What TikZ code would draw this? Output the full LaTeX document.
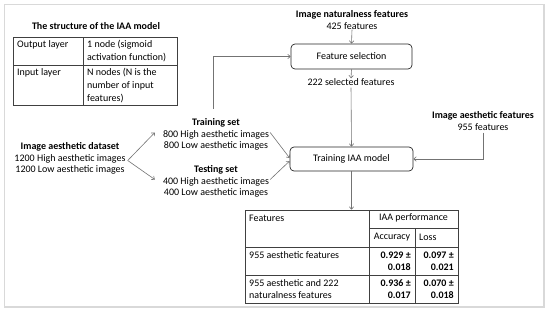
\documentclass[tikz,border=0pt]{standalone}
\usepackage{fontspec}
\setmainfont{Carlito}
\usetikzlibrary{arrows.meta,calc}
\begin{document}
\begin{tikzpicture}[x=1pt,y=-1pt,
  every node/.style={font=\fontsize{10}{11.8}\selectfont, inner sep=0pt, align=center},
  btxt/.style={font=\fontsize{10}{11.8}\selectfont\bfseries},
  ttxt/.style={font=\fontsize{10}{13}\selectfont},
  bnum/.style={font=\fontsize{10}{12}\selectfont\bfseries, anchor=east, align=right},
  conn/.style={draw=black!55, line width=0.6pt, -{Straight Barb[length=2.5pt,width=4.5pt]}},
  proc/.style={draw=black!85, rounded corners=4pt, line width=0.7pt, minimum width=121pt, minimum height=25pt},
  tline/.style={draw=black!75, line width=0.7pt},
  frame/.style={draw=black!15, line width=1.2pt}]
\useasboundingbox (0,0) rectangle (550,314);
\draw[frame] (4.5,4.5) rectangle (544,307);

% structure table
\node[btxt] (title) at (96,26) {The structure of the IAA model};
\node[tline, minimum width=164pt, minimum height=68pt] (st) at (95,71) {};
\draw[tline] (83,37) -- (83,105);
\draw[tline] (13,65) -- (177,65);
\node[ttxt, anchor=west] (ol) at (17,45) {Output layer};
\node[ttxt, anchor=west, align=left] (oln) at (87,51.5) {1 node (sigmoid\\activation function)};
\node[ttxt, anchor=west] (il) at (17,73) {Input layer};
\node[ttxt, anchor=west, align=left] (iln) at (87,86) {N nodes (N is the\\number of input\\features)};

% flow nodes
\node (nat) at (352,20) {\textbf{Image naturalness features}\\425 features};
\node[proc] (fs) at (351.5,56.5) {Feature selection};
\node (sel) at (351,82) {222 selected features};
\node[proc, minimum width=123pt, minimum height=24pt] (tr) at (351.5,159) {Training IAA model};
\node (aes) at (483,121) {\textbf{Image aesthetic features}\\955 features};
\node (ds) at (70,158.5) {\textbf{Image aesthetic dataset}\\1200 High aesthetic images\\1200 Low aesthetic images};
\node (trs) at (216,134.5) {\textbf{Training set}\\800 High aesthetic images\\800 Low aesthetic images};
\node (tes) at (216,181.5) {\textbf{Testing set}\\400 High aesthetic images\\400 Low aesthetic images};

% result table
\node[tline, minimum width=213pt, minimum height=93pt] (res) at (351.5,256.5) {};
\draw[tline] (369,210) -- (369,303);
\draw[tline] (415,228) -- (415,303);
\draw[tline] (369,228) -- (458,228);
\draw[tline] (245,247) -- (458,247);
\draw[tline] (245,275) -- (458,275);
\node[anchor=west] (hf) at (249,218) {Features};
\node (hp) at (413.5,218) {IAA performance};
\node (ha) at (392,237.5) {Accuracy};
\node[anchor=west] (hl) at (419,237.5) {Loss};
\node[anchor=west] (r1) at (249,255) {955 aesthetic features};
\node[bnum] (r1a) at (411,261) {0.929 ±\\0.018};
\node[bnum] (r1l) at (454,261) {0.097 ±\\0.021};
\node[anchor=west, align=left] (r2) at (249,289) {955 aesthetic and 222\\naturalness features};
\node[bnum] (r2a) at (411,289) {0.936 ±\\0.017};
\node[bnum] (r2l) at (454,289) {0.070 ±\\0.018};

% connectors
\coordinate (v) at ($(ds.east)+(2,2)$);
\draw[conn] (nat.south) -- (fs.north);
\draw[conn] (fs.south) -- (sel.north);
\draw[conn, shorten <=2pt] (sel.south) -- (tr.north);
\draw[conn, shorten <=9pt] ($(trs.north)+(-3,0)$) |- (fs.west);
\draw[conn] (v) -- ($(trs.west)+(-8,-2)$);
\draw[conn] (v) -- ($(tes.west)+(-8,-2)$);
\draw[conn] ($(trs.east)+(1,-2)$) -- ($(tr.west)+(0,-1)$);
\draw[conn] ($(tes.east)+(1,-2)$) -- ($(tr.west)+(0,2)$);
\draw[conn, shorten <=2pt] (aes.south) |- (tr.east);
\draw[conn] (tr.south) -- (res.north);
\end{tikzpicture}
\end{document}
